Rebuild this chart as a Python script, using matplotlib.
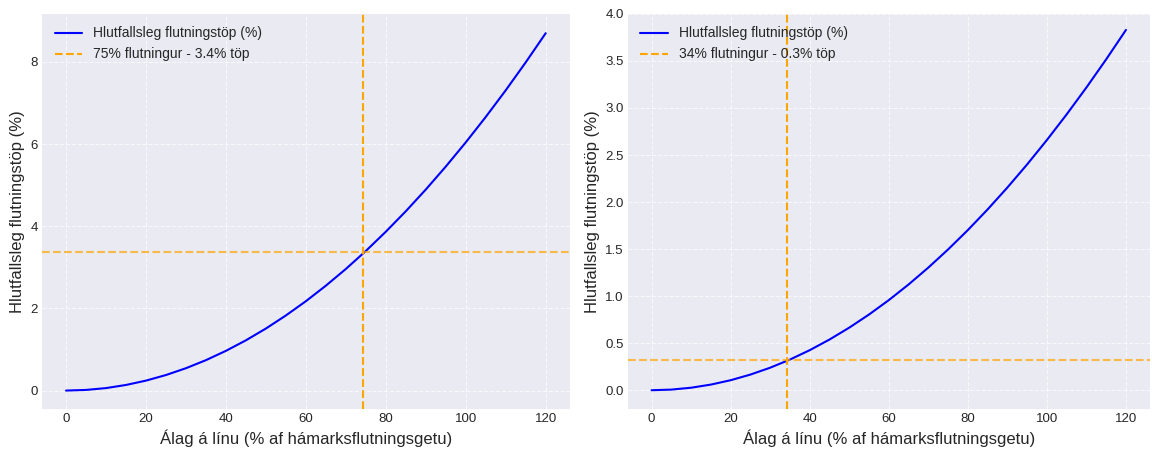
import matplotlib
matplotlib.use('Agg')
import matplotlib.pyplot as plt

plt.style.use('seaborn-v0_8-darkgrid')
plt.rcParams['font.family'] = ['Arial', 'Liberation Sans', 'DejaVu Sans']

# load (% of max capacity)
load = [0, 5, 10, 15, 20, 25, 30, 35, 40, 45, 50, 55, 60,
        65, 70, 75, 80, 85, 90, 95, 100, 105, 110, 115, 120]

# relative loss (%) - left panel
loss_left = [0.0, 0.015, 0.06, 0.136, 0.242, 0.378, 0.544, 0.74, 0.967, 1.223, 1.51, 1.828, 2.175,
             2.553, 2.96, 3.398, 3.867, 4.365, 4.894, 5.453, 6.042, 6.661, 7.31, 7.99, 8.7]
# relative loss (%) - right panel
loss_right = [0.0, 0.0066, 0.0266, 0.0598, 0.1064, 0.1662, 0.2394, 0.3258, 0.4256, 0.5386, 0.6649, 0.8046, 0.9575,
              1.1237, 1.3033, 1.4961, 1.7022, 1.9217, 2.1544, 2.4004, 2.6597, 2.9323, 3.2183, 3.5175, 3.83]

# operating points
op_left = (74.4, 3.37, '75% flutningur - 3.4% töp')
op_right = (34.3, 0.32, '34% flutningur - 0.3% töp')

fig = plt.figure(figsize=(11.52, 4.49), dpi=100)
ax1 = fig.add_axes([0.0365, 0.089, 0.458, 0.88])
ax2 = fig.add_axes([0.545, 0.089, 0.453, 0.88])

for ax, y, op in [(ax1, loss_left, op_left), (ax2, loss_right, op_right)]:
    ax.plot(load, y, color='blue', linewidth=1.5, label='Hlutfallsleg flutningstöp (%)')
    ax.axvline(op[0], color='orange', linestyle='--', linewidth=1.5, label=op[2])
    ax.axhline(op[1], color='orange', linestyle='--', linewidth=1.5, alpha=0.7)
    ax.set_xlabel('Álag á línu (% af hámarksflutningsgetu)', fontsize=12, labelpad=3)
    ax.set_ylabel('Hlutfallsleg flutningstöp (%)', fontsize=12)
    ax.grid(True, linestyle='--', alpha=0.7)
    ax.legend(loc='upper left', fontsize=10)
    ax.tick_params(labelsize=9.5, pad=3)
    ax.set_xlim(-6, 126)

ax1.set_ylim(-0.45, 9.17)
ax2.set_ylim(-0.2, 4.0)

fig.savefig('out.png', dpi=100)
